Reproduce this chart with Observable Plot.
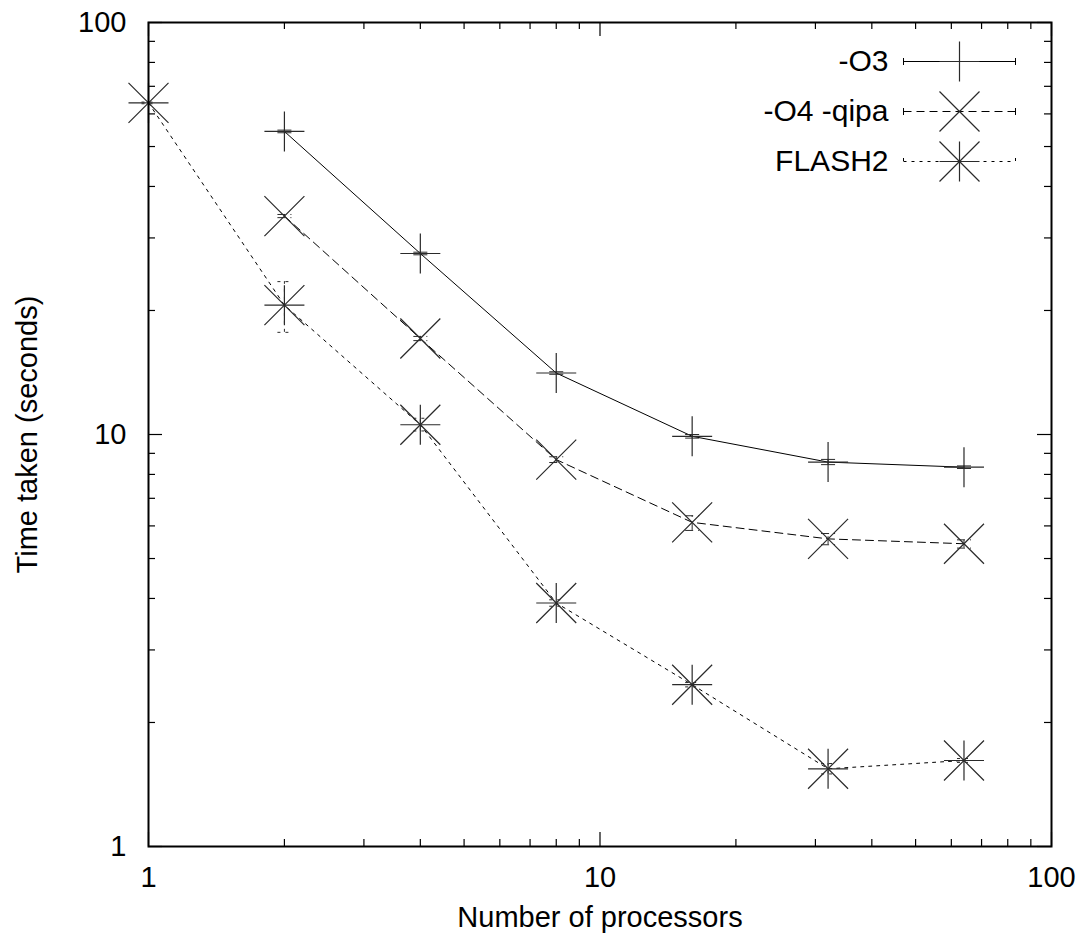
<!DOCTYPE html>
<html>
<head>
<meta charset="utf-8">
<script src="https://cdn.jsdelivr.net/npm/d3@7"></script>
<script src="https://cdn.jsdelivr.net/npm/@observablehq/plot@0.6"></script>
<style>
  html, body { margin: 0; padding: 0; background: white; }
</style>
</head>
<body>
<div id="chart"></div>
<script>
// ---- data ----
const procs = [2, 4, 8, 16, 32, 64];
const o3 = [54.4, 27.5, 14.1, 9.9, 8.57, 8.33];
const o3Lo = [54.0, 27.3, 14.0, 9.8, 8.45, 8.27];
const o3Hi = [54.8, 27.7, 14.2, 10.0, 8.7, 8.39];

const o4 = [33.9, 17.1, 8.69, 6.12, 5.58, 5.43];
const o4Lo = [33.6, 16.9, 8.55, 5.85, 5.40, 5.30];
const o4Hi = [34.2, 17.3, 8.83, 6.35, 5.75, 5.55];

const flashProcs = [1, 2, 4, 8, 16, 32, 64];
const flash = [63.8, 20.6, 10.56, 3.90, 2.47, 1.544, 1.617];
const flashLo = [63.5, 17.7, 10.2, 3.83, 2.44, 1.50, 1.60];
const flashHi = [64.1, 23.5, 10.95, 3.97, 2.50, 1.59, 1.635];

const seriesNames = ["-O3", "-O4 -qipa", "FLASH2"];
const majorTicks = [1, 10, 100];
const minorTicks = [2,3,4,5,6,7,8,9,20,30,40,50,60,70,80,90];
const xLabel = "Number of processors";
const yLabel = "Time taken (seconds)";

// ---- layout ----
const W = 1086, H = 937;
const mL = 148, mR = 35, mT = 22, mB = 91;
const plotW = W - mL - mR, plotH = H - mT - mB;
const majorLen = 14, minorLen = 7;

// ---- custom symbols (r = half-length in px) ----
const rad = size => Math.sqrt(size / Math.PI);
const plusSym = {draw(c, s) { const r = rad(s); c.moveTo(-r, 0); c.lineTo(r, 0); c.moveTo(0, -r); c.lineTo(0, r); }};
const timesSym = {draw(c, s) { const r = rad(s); c.moveTo(-r, -r); c.lineTo(r, r); c.moveTo(-r, r); c.lineTo(r, -r); }};
const hbarSym = {draw(c, s) { const r = rad(s); c.moveTo(-r, 0); c.lineTo(r, 0); }};
const keySym = {draw(c, s) { const r = rad(s); c.moveTo(-r, 0); c.lineTo(r, 0); c.moveTo(-r, -3.5); c.lineTo(-r, 3.5); c.moveTo(r, -3.5); c.lineTo(r, 3.5); }};

const mk = (xs, ys, lo, hi) => xs.map((x, i) => ({x, y: ys[i], lo: lo[i], hi: hi[i]}));
const series = [
  {name: seriesNames[0], data: mk(procs, o3, o3Lo, o3Hi), dash: null, syms: [plusSym]},
  {name: seriesNames[1], data: mk(procs, o4, o4Lo, o4Hi), dash: "8,5", syms: [timesSym]},
  {name: seriesNames[2], data: mk(flashProcs, flash, flashLo, flashHi), dash: "3,5", syms: [plusSym, timesSym]}
];

const markStroke = "#2a2a2a";
const marks = [];

// ticks (inward, mirrored)
for (const [vals, len] of [[majorTicks, majorLen], [minorTicks, minorLen]]) {
  marks.push(Plot.ruleX(vals, {x: d => d, insetTop: plotH - len, stroke: "black", strokeWidth: 1.2}));
  marks.push(Plot.ruleX(vals, {x: d => d, insetBottom: plotH - len, stroke: "black", strokeWidth: 1.2}));
  marks.push(Plot.ruleY(vals, {y: d => d, insetRight: plotW - len, stroke: "black", strokeWidth: 1.2}));
  marks.push(Plot.ruleY(vals, {y: d => d, insetLeft: plotW - len, stroke: "black", strokeWidth: 1.2}));
}

// series
for (const s of series) {
  marks.push(Plot.line(s.data, {x: "x", y: "y", stroke: "black", strokeWidth: 1, strokeDasharray: s.dash}));
  marks.push(Plot.ruleX(s.data, {x: "x", y1: "lo", y2: "hi", stroke: markStroke, strokeWidth: 1, strokeDasharray: s.dash}));
  marks.push(Plot.dot(s.data, {x: "x", y: "lo", symbol: hbarSym, r: 7, stroke: markStroke, fill: "none", strokeWidth: 1, strokeDasharray: s.dash}));
  marks.push(Plot.dot(s.data, {x: "x", y: "hi", symbol: hbarSym, r: 7, stroke: markStroke, fill: "none", strokeWidth: 1, strokeDasharray: s.dash}));
  for (const sym of s.syms) {
    marks.push(Plot.dot(s.data, {x: "x", y: "y", symbol: sym, r: 20, stroke: markStroke, fill: "none", strokeWidth: 1.2}));
  }
}

// legend (key) inside top-right
series.forEach((s, i) => {
  const dy = 39 + i * 50;
  marks.push(Plot.text([s.name], {text: d => d, frameAnchor: "top-right", textAnchor: "end", lineAnchor: "middle", dx: -163, dy, fontSize: 30, fill: "black"}));
  marks.push(Plot.dot([s.name], {frameAnchor: "top-right", dx: -92, dy, symbol: keySym, r: 56, stroke: "black", fill: "none", strokeWidth: 1, strokeDasharray: s.dash}));
  for (const sym of s.syms) {
    marks.push(Plot.dot([s.name], {frameAnchor: "top-right", dx: -92, dy, symbol: sym, r: 20, stroke: markStroke, fill: "none", strokeWidth: 1.2}));
  }
});

marks.push(Plot.axisX({ticks: majorTicks, tickSize: 0, tickPadding: 20, tickFormat: d3.format("d"), fontSize: 29,
  label: xLabel, labelAnchor: "center", labelArrow: "none", labelOffset: 80}));
marks.push(Plot.axisY({ticks: majorTicks, tickSize: 0, tickPadding: 22, tickFormat: d3.format("d"), fontSize: 29,
  label: yLabel, labelAnchor: "center", labelArrow: "none", labelOffset: 132}));
marks.push(Plot.frame({stroke: "black", strokeWidth: 2}));

const chart = Plot.plot({
  width: W, height: H,
  marginLeft: mL, marginRight: mR, marginTop: mT, marginBottom: mB,
  style: {fontFamily: "'Liberation Sans', Arial, Helvetica, sans-serif", fontSize: "30px", background: "white", color: "black"},
  x: {type: "log", domain: [1, 100]},
  y: {type: "log", domain: [1, 100]},
  marks
});
document.getElementById("chart").appendChild(chart);
</script>
</body>
</html>
